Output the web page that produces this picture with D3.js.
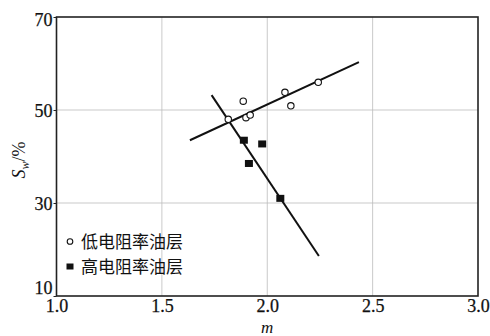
<!DOCTYPE html>
<html><head><meta charset="utf-8">
<script src="https://cdn.jsdelivr.net/npm/d3@7"></script>
<style>body{margin:0;background:#fff}svg{display:block}</style>
</head><body>
<svg id="c" width="490" height="336"></svg>
<script>
const xTicks = [1.0, 1.5, 2.0, 2.5, 3.0];
const yTicks = [10, 30, 50, 70];
const lowM = [1.815, 1.886, 1.899, 1.919, 2.084, 2.112, 2.242];
const lowSw = [48.0, 51.9, 48.35, 48.9, 53.8, 50.9, 55.95];
const highM = [1.889, 1.976, 1.913, 2.062];
const highSw = [43.5, 42.7, 38.5, 31.0];
const lowFitM = [1.633, 2.435];
const lowFitSw = [43.5, 60.3];
const highFitM = [1.736, 2.245];
const highFitSw = [53.2, 18.6];
const legendLabels = ["低电阻率油层", "高电阻率油层"];

const svg = d3.select("#c");
const L = 56.5, R = 478, T = 17, B = 296;
const x = d3.scaleLinear().domain([1, 3]).range([L, R]);
const y = d3.scaleLinear().domain([10, 70]).range([B, T]);
const serif = "'Liberation Serif',serif";

// grid
svg.append("g").selectAll("line").data(xTicks.slice(1, -1)).join("line")
  .attr("x1", d => x(d)).attr("x2", d => x(d)).attr("y1", T).attr("y2", B)
  .attr("stroke", "#bbb").attr("stroke-width", 0.8);
svg.append("g").selectAll("line").data(yTicks.slice(1, -1)).join("line")
  .attr("y1", d => y(d)).attr("y2", d => y(d)).attr("x1", L).attr("x2", R)
  .attr("stroke", "#bbb").attr("stroke-width", 0.8);

// axes
const xa = svg.append("g").attr("transform", `translate(0,${B})`)
  .call(d3.axisBottom(x).tickValues(xTicks).tickFormat(d3.format(".1f")).tickSize(0).tickPadding(3));
const ya = svg.append("g").attr("transform", `translate(${L},0)`)
  .call(d3.axisLeft(y).tickValues(yTicks).tickSize(3).tickPadding(1));
[xa, ya].forEach(a => {
  a.select(".domain").remove();
  a.attr("font-family", serif).attr("font-size", 18);
  a.selectAll("text").attr("fill", "#111").attr("stroke", "#111").attr("stroke-width", 0.25);
  a.selectAll("line").attr("stroke", "#222");
});
ya.selectAll("text").attr("dy", d => d === 10 ? "-0.15em" : d === 70 ? "0.45em" : "0.38em");

// frame
svg.append("rect").attr("x", L).attr("y", T).attr("width", R - L).attr("height", B - T)
  .attr("fill", "none").attr("stroke", "#222").attr("stroke-width", 1.6);

// fit lines
const line = d3.line().x(d => x(d[0])).y(d => y(d[1]));
svg.append("path").datum(d3.zip(lowFitM, lowFitSw)).attr("d", line)
  .attr("stroke", "#111").attr("stroke-width", 2).attr("fill", "none");
svg.append("path").datum(d3.zip(highFitM, highFitSw)).attr("d", line)
  .attr("stroke", "#111").attr("stroke-width", 2).attr("fill", "none");

// points
svg.append("g").selectAll("circle").data(d3.zip(lowM, lowSw)).join("circle")
  .attr("cx", d => x(d[0])).attr("cy", d => y(d[1])).attr("r", 3.2)
  .attr("fill", "#fff").attr("stroke", "#111").attr("stroke-width", 1.1);
svg.append("g").selectAll("rect").data(d3.zip(highM, highSw)).join("rect")
  .attr("x", d => x(d[0]) - 4).attr("y", d => y(d[1]) - 3.5).attr("width", 8).attr("height", 7)
  .attr("fill", "#111");

// labels
svg.append("text").attr("font-family", serif).attr("x", x(2)).attr("y", 333).attr("text-anchor", "middle")
  .attr("font-style", "italic").attr("font-size", 17).attr("fill", "#111").text("m");
const yl = svg.append("text").attr("font-family", serif).attr("transform", "translate(25,160) rotate(-90)")
  .attr("text-anchor", "middle").attr("font-size", 18).attr("fill", "#111");
yl.append("tspan").attr("font-style", "italic").text("S");
yl.append("tspan").attr("font-style", "italic").attr("font-size", 12).attr("dy", 4).text("w");
yl.append("tspan").attr("dy", -4).text("/%");

// legend
const lg = svg.append("g");
lg.append("circle").attr("cx", 70).attr("cy", 241.5).attr("r", 2.8)
  .attr("fill", "#fff").attr("stroke", "#111").attr("stroke-width", 1.1);
lg.append("rect").attr("x", 66.5).attr("y", 263.5).attr("width", 7).attr("height", 6).attr("fill", "#111");
lg.selectAll("text").data(legendLabels).join("text")
  .attr("x", 81).attr("y", (d, i) => 242 + i * 25).attr("dy", "0.36em")
  .attr("font-family", "'Noto Sans CJK SC',sans-serif").attr("font-size", 17).attr("fill", "#111")
  .text(d => d);
</script>
</body></html>
